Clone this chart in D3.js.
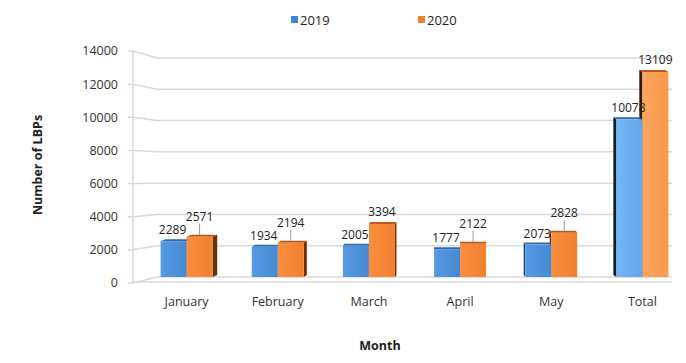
<!DOCTYPE html>
<html><head><meta charset="utf-8">
<script src="https://cdn.jsdelivr.net/npm/d3@7"></script>
<style>body{margin:0;background:#fff}svg{display:block;font-family:"Open Sans",sans-serif}</style>
</head><body><svg id="c" width="686" height="363"></svg>
<script>
const categories = ["January","February","March","April","May","Total"];
const series = ["2019","2020"];
const values2019 = [2289,1934,2005,1777,2073,10078];
const values2020 = [2571,2194,3394,2122,2828,13109];
const yTicks = [0,2000,4000,6000,8000,10000,12000,14000];
const leader2020 = [true,true,false,true,true,false];

const svg = d3.select("#c");
const front = d3.scaleLinear().domain([0,14000]).range([283,51]);
const back = d3.scaleLinear().domain([0,14000]).range([277,58]);
const axisX = 133, wallX = 157, wallRight = 672;

const defs = svg.append("defs");
function grad(id, c1, c2){
  const g = defs.append("linearGradient").attr("id",id).attr("x1","0").attr("x2","1");
  g.append("stop").attr("offset","0").attr("stop-color",c1);
  g.append("stop").attr("offset","1").attr("stop-color",c2);
}
grad("gb","#559ae2","#4689d4");
grad("go","#f88e3f","#f2802c");
grad("gbT","#75b6f3","#62a6ec");
grad("goT","#fba65e","#f9984a");

// grid
const grid = svg.append("g").attr("stroke","#d9d9d9").attr("stroke-width",1.5).attr("fill","none");
yTicks.forEach(t=>{
  grid.append("path").attr("d",`M${axisX-5},${front(t)}L${axisX},${front(t)}L${wallX},${back(t)}L${wallRight},${back(t)}`);
});
grid.append("line").attr("x1",axisX).attr("x2",axisX).attr("y1",front(14000)).attr("y2",front(0));
grid.append("line").attr("x1",axisX).attr("x2",wallRight).attr("y1",front(0)-1).attr("y2",front(0)-1);

// y tick labels
svg.append("g").selectAll("text").data(yTicks).join("text")
  .attr("x",118).attr("y",d=>front(d)).attr("dy","0.35em").attr("text-anchor","end")
  .attr("font-size",12.5).attr("fill","#333").text(d=>d);

// bars
const x0 = d3.scaleBand().domain(categories).range([141,688]).paddingInner(0.43).paddingOuter(0.215);
const x1 = d3.scaleBand().domain(series).range([0,x0.bandwidth()]);
const fills = {"2019":["url(#gb)","#1f3f66","#2f6aae"],"2020":["url(#go)","#6a300a","#b8561a"]};
const fillsT = {"2019":"url(#gbT)","2020":"url(#goT)"};
const barsG = svg.append("g");
categories.forEach((c,i)=>{
  const cx = x0(c)+x0.bandwidth()/2;
  const dx = (460-cx)*0.017, dy = 2;
  const vals = {"2019":values2019[i],"2020":values2020[i]};
  const order = dx>=0 ? ["2019","2020"] : ["2020","2019"];
  order.forEach(s=>{
    const x = x0(c)+x1(s), w = x1.bandwidth(), top = back(vals[s]), bot = back(0);
    const f = fills[s];
    const fillFront = c==="Total" ? fillsT[s] : f[0];
    const side = c==="Total" ? (s==="2019" ? "#0f1f33" : "#3a1804") : f[1];
    if (Math.abs(dx)>0.3){
      const sx = dx>0 ? x+w : x;
      barsG.append("path").attr("fill",side)
        .attr("d",`M${sx},${top}L${sx+dx},${top-dy}L${sx+dx},${bot-dy}L${sx},${bot}Z`);
    }
    barsG.append("path").attr("fill",f[2])
      .attr("d",`M${x},${top}L${x+dx},${top-dy}L${x+w+dx},${top-dy}L${x+w},${top}Z`);
    barsG.append("rect").attr("x",x).attr("y",top).attr("width",w).attr("height",bot-top).attr("fill",fillFront);
  });
});

// value labels
const lab = svg.append("g").attr("font-size",12).attr("fill","#222").attr("text-anchor","middle");
categories.forEach((c,i)=>{
  const xb = x0(c)+x1("2019")+x1.bandwidth()/2;
  const xo = x0(c)+x1("2020")+x1.bandwidth()/2;
  lab.append("text").attr("x",xb-1).attr("y",back(values2019[i])-7).text(values2019[i]);
  const lead = leader2020[i];
  const ty = back(values2020[i]) - (lead ? 16 : 8);
  if (lead){
    svg.append("line").attr("x1",xo).attr("x2",xo).attr("y1",ty+3).attr("y2",back(values2020[i])-2)
      .attr("stroke","#999").attr("stroke-width",1);
  }
  lab.append("text").attr("x",xo).attr("y",ty).text(values2020[i]);
});

// category labels
svg.append("g").selectAll("text").data(categories).join("text")
  .attr("x",d=>x0(d)+x0.bandwidth()/2).attr("y",302).attr("dy","0.35em").attr("text-anchor","middle")
  .attr("font-size",12.5).attr("fill","#333").text(d=>d);

// axis titles
svg.append("text").attr("x",380).attr("y",346).attr("dy","0.35em").attr("text-anchor","middle")
  .attr("font-size",12.5).attr("font-weight","bold").attr("fill","#222").text("Month");
svg.append("text").attr("transform","translate(38,165) rotate(-90)").attr("dy","0.35em").attr("text-anchor","middle")
  .attr("font-size",12.5).attr("font-weight","bold").attr("fill","#222").text("Number of LBPs");

// legend
const leg = [{s:"2019",c:"#3f86d0",x:291},{s:"2020",c:"#ef7e2e",x:418}];
leg.forEach(l=>{
  svg.append("rect").attr("x",l.x).attr("y",16).attr("width",7).attr("height",7).attr("fill",l.c);
  svg.append("text").attr("x",l.x+9).attr("y",20).attr("dy","0.35em").attr("font-size",13).attr("fill","#222").text(l.s);
});
</script></body></html>
